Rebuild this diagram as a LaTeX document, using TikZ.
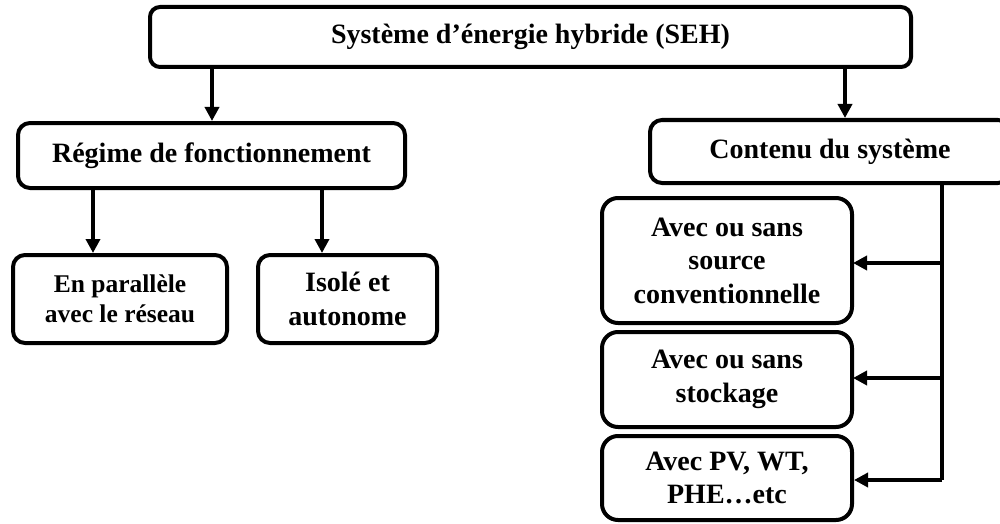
\documentclass[tikz,border=0pt]{standalone}
\usepackage{fontspec}
\setmainfont{Liberation Serif}
\usetikzlibrary{arrows.meta}
\begin{document}
\begin{tikzpicture}[x=0.5pt,y=-0.5pt,
  box/.style={draw=black, fill=white, line width=2pt, rounded corners=6pt,
    align=center, inner sep=0pt,
    font=\bfseries\fontsize{14}{16.75}\selectfont},
  arr/.style={line width=1.8pt, -{Triangle[length=7pt,width=7pt]}},
  link/.style={line width=1.8pt}]
  \useasboundingbox (0,0) rectangle (1000,524);

  % main box
  \node[box, rounded corners=5pt, minimum width=380.5pt, minimum height=30pt]
    (seh) at (530.5,37) {Système d’énergie hybride (SEH)};

  % left branch: operating mode
  \node[box, minimum width=193.5pt, minimum height=32.5pt]
    (reg) at (211.5,155.5) {Régime de fonctionnement};
  \node[box, minimum width=107pt, minimum height=44pt,
    font=\bfseries\fontsize{12.75}{15}\selectfont]
    (par) at (120,299) {En parallèle\\avec le réseau};
  \node[box, minimum width=89.5pt, minimum height=44pt]
    (iso) at (347.5,299) {Isolé et\\autonome};

  % right branch: system content
  \node[box, minimum width=180pt, minimum height=31.5pt]
    (cont) at (830,151.5) {Contenu du système};
  \node[box, rounded corners=8pt, minimum width=125pt, minimum height=62.5pt]
    (b1) at (727,260.5) {Avec ou sans\\source\\conventionnelle};
  \node[box, rounded corners=8pt, minimum width=125pt, minimum height=47.5pt]
    (b2) at (727,379.5) {Avec ou sans\\stockage};
  \node[box, rounded corners=8pt, minimum width=125pt, minimum height=42pt]
    (b3) at (727,478) {Avec PV, WT,\\PHE…etc};

  % connectors from the main box
  \coordinate (sl) at (212,0);
  \coordinate (sr) at (845,0);
  \draw[arr] (seh.south -| sl) -- (reg.north -| sl);
  \draw[arr] (seh.south -| sr) -- (cont.north -| sr);

  % connectors to the operating modes
  \coordinate (pl) at (93,0);
  \coordinate (pr) at (322,0);
  \draw[arr] (reg.south -| pl) -- (par.north -| pl);
  \draw[arr] (reg.south -| pr) -- (iso.north -| pr);

  % spine on the right feeding the three content boxes
  \coordinate (spine) at (942,0);
  \coordinate (spineEnd) at (942,480);
  \draw[link, line join=miter] (cont.south -| spine) -- (spineEnd);
  \draw[arr] (spineEnd) -- (b3.east |- spineEnd);
  \draw[arr] (b1.east -| spine) ++(0,2.5) -- ++(-89,0);
  \draw[arr] (b2.east -| spine) ++(0,-1.5) -- ++(-89,0);
\end{tikzpicture}
\end{document}
